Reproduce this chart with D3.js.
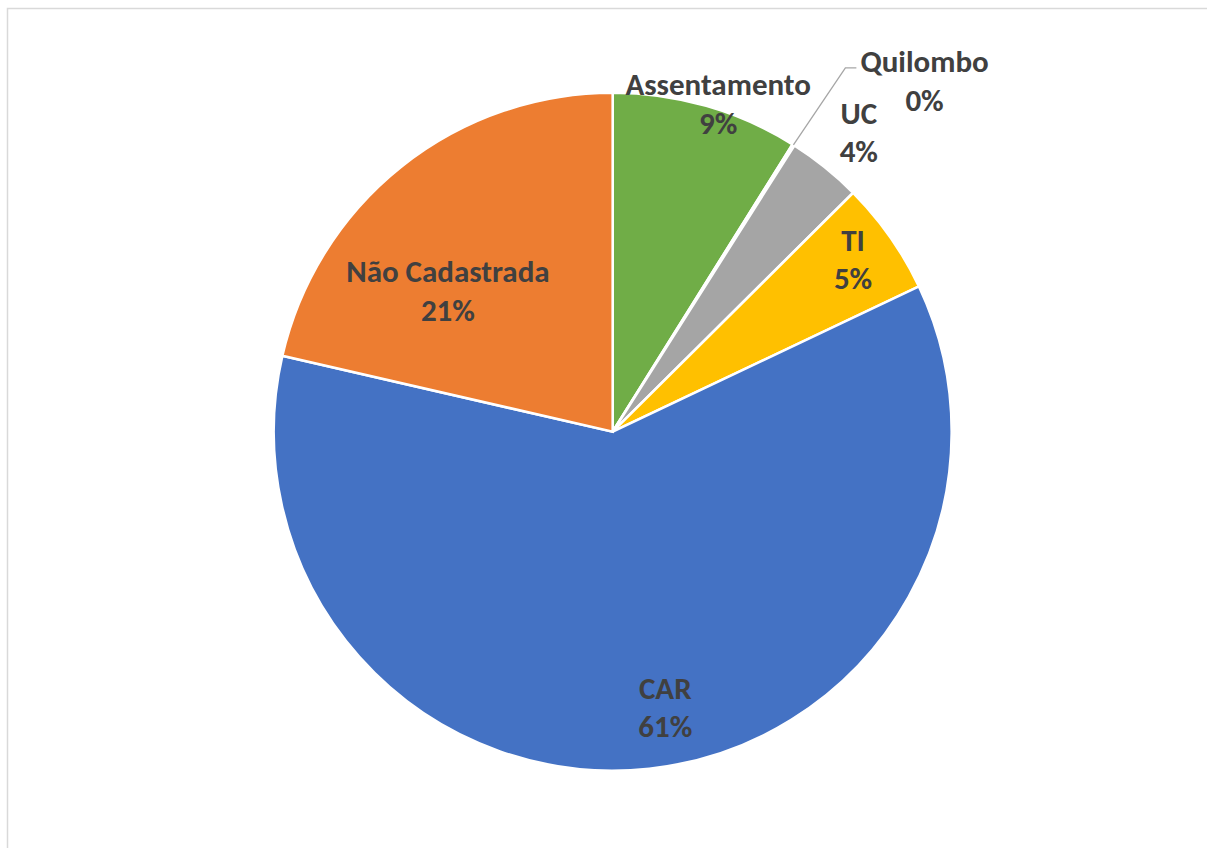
<!DOCTYPE html>
<html>
<head>
<meta charset="utf-8">
<script src="https://cdn.jsdelivr.net/npm/d3@7"></script>
<style>
  html, body { margin: 0; padding: 0; background: #ffffff; }
  svg { display: block; }
</style>
</head>
<body>
<svg id="chart" width="1207" height="848"></svg>
<script>
// ---- data (clockwise from 12 o'clock) ----
const categories = ["Assentamento", "Quilombo", "UC", "TI", "CAR", "Não Cadastrada"];
const values = [8.9, 0.1, 3.55, 5.4, 60.65, 21.4];
const colors = ["#70AD47", "#5B9BD5", "#A5A5A5", "#FFC000", "#4472C4", "#ED7D31"];
// label placement: [angle shift in degrees from slice middle, radius factor]
const labelShift = [1.8, 9.4, 0.6, -0.6, -4.6, -10.9];
const labelRadius = [1.017, 1.385, 1.144, 0.873, 0.827, 0.64];
const leaderFor = ["Quilombo"];

// ---- layout ----
const W = 1207, H = 848;
const cx = 612.7, cy = 431.7, R = 339;
const svg = d3.select("#chart");

svg.append("rect")
  .attr("x", 7.5).attr("y", 8.5)
  .attr("width", 1230).attr("height", 870)
  .attr("fill", "#ffffff")
  .attr("stroke", "#d9d9d9").attr("stroke-width", 1.5);

const data = categories.map((c, i) => ({ name: c, value: values[i], color: colors[i], i }));
const total = d3.sum(values);

const pie = d3.pie().value(d => d.value).sort(null);
const arcs = pie(data);
const arc = d3.arc().innerRadius(0).outerRadius(R);

const g = svg.append("g").attr("transform", `translate(${cx},${cy})`);

g.selectAll("path.slice")
  .data(arcs)
  .join("path")
  .attr("class", "slice")
  .attr("d", arc)
  .attr("fill", d => d.data.color)
  .attr("stroke", "#ffffff")
  .attr("stroke-width", 2.6)
  .attr("stroke-linejoin", "miter");

const fontSize = 31;
const lineGap = 38.5;
const fontFamily = "Carlito, Calibri, Lato, 'Open Sans', sans-serif";

function polar(angle, r) {
  return [Math.sin(angle) * r, -Math.cos(angle) * r];
}

const labels = g.selectAll("g.label")
  .data(arcs)
  .join("g")
  .attr("class", "label")
  .attr("transform", d => {
    const mid = (d.startAngle + d.endAngle) / 2 + labelShift[d.data.i] * Math.PI / 180;
    const [x, y] = polar(mid, R * labelRadius[d.data.i]);
    d.lx = x; d.ly = y;
    return `translate(${x},${y})`;
  });

labels.each(function(d) {
  const sel = d3.select(this);
  const pct = Math.round(d.data.value / total * 100) + "%";
  const lines = [d.data.name, pct];
  lines.forEach((t, k) => {
    sel.append("text")
      .attr("x", 0)
      .attr("y", (k - 0.5) * lineGap)
      .attr("dy", "0.35em")
      .attr("text-anchor", "middle")
      .attr("font-family", fontFamily)
      .attr("font-weight", "bold")
      .attr("font-size", fontSize)
      .attr("fill", "#404040")
      .text(t);
  });
  d.textW = sel.select("text").node().getComputedTextLength();
});

// leader lines
arcs.filter(d => leaderFor.includes(d.data.name)).forEach(d => {
  const mid = (d.startAngle + d.endAngle) / 2;
  const [sx, sy] = polar(mid, R);
  const ex = d.lx - d.textW / 2 - 4;
  const ey = d.ly - lineGap / 2 + 6.5;
  const kx = ex - 11;
  g.append("polyline")
    .attr("points", [[sx, sy], [kx, ey], [ex, ey]].map(p => p.join(",")).join(" "))
    .attr("fill", "none")
    .attr("stroke", "#a6a6a6")
    .attr("stroke-width", 1.3);
});
</script>
</body>
</html>
